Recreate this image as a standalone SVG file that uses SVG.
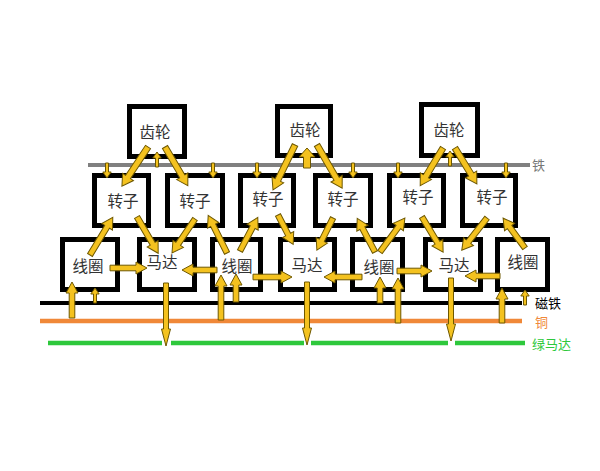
<svg xmlns="http://www.w3.org/2000/svg" width="600" height="471" viewBox="0 0 600 471">
<style>
.box{fill:#fff;stroke:#000;stroke-width:5}
.t{font-family:"Noto Sans CJK SC","Noto Sans",sans-serif;font-size:15.5px;fill:#333;text-anchor:middle}
.lbl{font-family:"Noto Sans CJK SC","Noto Sans",sans-serif;font-size:13px}
.a{fill:#F4C21F;stroke:#6e5800;stroke-width:1;stroke-linejoin:miter}
</style>
<defs>
<path id="sm" class="a" d="M0,-1.5 H9 V-4.2 L15,0 L9,4.2 V1.5 H0 Z"/>
<path id="dn" class="a" d="M0,-2.5 H46 V-4.5 L63,0 L46,4.5 V2.5 H0 Z"/>
</defs>
<rect width="600" height="471" fill="#fff"/>

<g id="lines">
<line x1="88" y1="165" x2="530" y2="165" stroke="#808080" stroke-width="4"/>
<line x1="40" y1="303" x2="522" y2="303" stroke="#000" stroke-width="4"/>
<line x1="40" y1="321" x2="522" y2="321" stroke="#F08838" stroke-width="4.5"/>
<path d="M48,343 H162 M171,343 H304 M311,343 H448 M455,343 H525" stroke="#2EC83C" stroke-width="4.5" fill="none"/>
</g>

<g id="gear1"><rect class="box" x="129.5" y="106.5" width="55" height="50"/><text class="t" x="155" y="138">齿轮</text></g>
<g id="gear2"><rect class="box" x="277.5" y="106.5" width="53" height="49"/><text class="t" x="305" y="136">齿轮</text></g>
<g id="gear3"><rect class="box" x="421.5" y="104.5" width="56" height="51"/><text class="t" x="449" y="136">齿轮</text></g>

<g id="rotor1"><rect class="box" x="94.5" y="175.5" width="54" height="50"/><text class="t" x="123" y="207">转子</text></g>
<g id="rotor2"><rect class="box" x="167.5" y="175.5" width="55" height="50"/><text class="t" x="195" y="207">转子</text></g>
<g id="rotor3"><rect class="box" x="240.5" y="175.5" width="53" height="50"/><text class="t" x="268" y="205">转子</text></g>
<g id="rotor4"><rect class="box" x="315.5" y="175.5" width="55" height="50"/><text class="t" x="343" y="205">转子</text></g>
<g id="rotor5"><rect class="box" x="389.5" y="175.5" width="54" height="50"/><text class="t" x="418" y="203">转子</text></g>
<g id="rotor6"><rect class="box" x="462.5" y="175.5" width="53" height="50"/><text class="t" x="492" y="203">转子</text></g>

<g id="coil1"><rect class="box" x="62.5" y="239.5" width="55" height="50"/><text class="t" x="88" y="272">线圈</text></g>
<g id="motor1"><rect class="box" x="139.5" y="239.5" width="55" height="50"/><text class="t" x="162" y="268">马达</text></g>
<g id="coil2"><rect class="box" x="212.5" y="239.5" width="48" height="50"/><text class="t" x="237" y="272">线圈</text></g>
<g id="motor2"><rect class="box" x="280.5" y="239.5" width="54" height="50"/><text class="t" x="307" y="271">马达</text></g>
<g id="coil3"><rect class="box" x="352.5" y="239.5" width="50" height="50"/><text class="t" x="379" y="273">线圈</text></g>
<g id="motor3"><rect class="box" x="425.5" y="239.5" width="55" height="50"/><text class="t" x="454" y="271">马达</text></g>
<g id="coil4"><rect class="box" x="497.5" y="239.5" width="50" height="50"/><text class="t" x="523" y="268">线圈</text></g>

<g id="labels">
<text class="lbl" x="532" y="170" fill="#777">铁</text>
<text class="lbl" x="535" y="308" fill="#000">磁铁</text>
<text class="lbl" x="535" y="327" fill="#F08838">铜</text>
<text class="lbl" x="532" y="349" fill="#2EC83C">绿马达</text>
</g>

<g id="connectors">
<path class="a" transform="translate(148,147) rotate(123.7)" d="M0,-3 H36 V-6.5 L47,0 L36,6.5 V3 H0 Z"/>
<path class="a" transform="translate(165,147) rotate(59.5)" d="M0,-3 H34 V-6.5 L45,0 L34,6.5 V3 H0 Z"/>
<use href="#sm" transform="translate(157,167) rotate(-90)"/>
<path class="a" transform="translate(295,145) rotate(116.1)" d="M0,-3 H39 V-6.5 L50,0 L39,6.5 V3 H0 Z"/>
<path class="a" transform="translate(317,145) rotate(59.8)" d="M0,-3 H39 V-6.5 L50,0 L39,6.5 V3 H0 Z"/>
<path class="a" transform="translate(307,168) rotate(-90)" d="M0,-3.5 H11 V-8 L20,0 L11,8 V3.5 H0 Z"/>
<path class="a" transform="translate(443,148) rotate(121.2)" d="M0,-3 H33 V-6.5 L44,0 L33,6.5 V3 H0 Z"/>
<path class="a" transform="translate(455,148) rotate(58.6)" d="M0,-3 H31 V-6.5 L42,0 L31,6.5 V3 H0 Z"/>
<use href="#sm" transform="translate(450,166) rotate(-90)"/>
<use href="#sm" transform="translate(107,163) rotate(90)"/>
<use href="#sm" transform="translate(213,163) rotate(90)"/>
<use href="#sm" transform="translate(257,163) rotate(90)"/>
<use href="#sm" transform="translate(353,163) rotate(90)"/>
<use href="#sm" transform="translate(398,163) rotate(90)"/>
<use href="#sm" transform="translate(506,163) rotate(90)"/>
<path class="a" transform="translate(90,255) rotate(-58.8)" d="M0,-2.8 H33 V-6.3 L44,0 L33,6.3 V2.8 H0 Z"/>
<path class="a" transform="translate(137,217) rotate(59.7)" d="M0,-2.8 H31 V-6.3 L42,0 L31,6.3 V2.8 H0 Z"/>
<path class="a" transform="translate(195,219) rotate(124.1)" d="M0,-2.8 H30 V-6.3 L41,0 L30,6.3 V2.8 H0 Z"/>
<path class="a" transform="translate(227,253) rotate(-116.6)" d="M0,-2.8 H31 V-6.3 L42,0 L31,6.3 V2.8 H0 Z"/>
<path class="a" transform="translate(240,251) rotate(-62.1)" d="M0,-2.8 H27 V-6.3 L38,0 L27,6.3 V2.8 H0 Z"/>
<path class="a" transform="translate(278,215) rotate(62.6)" d="M0,-2.8 H22 V-6.3 L33,0 L22,6.3 V2.8 H0 Z"/>
<path class="a" transform="translate(333,218) rotate(116.6)" d="M0,-2.8 H25 V-6.3 L36,0 L25,6.3 V2.8 H0 Z"/>
<path class="a" transform="translate(375,252) rotate(-117.9)" d="M0,-2.8 H27 V-6.3 L38,0 L27,6.3 V2.8 H0 Z"/>
<path class="a" transform="translate(380,252) rotate(-53.7)" d="M0,-2.8 H31 V-6.3 L42,0 L31,6.3 V2.8 H0 Z"/>
<path class="a" transform="translate(422,217) rotate(59)" d="M0,-2.8 H30 V-6.3 L41,0 L30,6.3 V2.8 H0 Z"/>
<path class="a" transform="translate(487,218) rotate(128)" d="M0,-2.8 H30 V-6.3 L41,0 L30,6.3 V2.8 H0 Z"/>
<path class="a" transform="translate(525,248) rotate(-126.3)" d="M0,-2.8 H26 V-6.3 L37,0 L26,6.3 V2.8 H0 Z"/>
<path class="a" transform="translate(110,268)" d="M0,-2.8 H26 V-6 L37,0 L26,6 V2.8 H0 Z"/>
<path class="a" transform="translate(217,270) rotate(180)" d="M0,-2.8 H24 V-6 L35,0 L24,6 V2.8 H0 Z"/>
<path class="a" transform="translate(253,277)" d="M0,-2.8 H28 V-6 L39,0 L28,6 V2.8 H0 Z"/>
<path class="a" transform="translate(362,277) rotate(180)" d="M0,-2.8 H27 V-6 L38,0 L27,6 V2.8 H0 Z"/>
<path class="a" transform="translate(397,271)" d="M0,-2.8 H24 V-6 L35,0 L24,6 V2.8 H0 Z"/>
<path class="a" transform="translate(500,276) rotate(180)" d="M0,-2.8 H24 V-6 L35,0 L24,6 V2.8 H0 Z"/>
<path class="a" transform="translate(72,318) rotate(-90)" d="M0,-2.8 H25 V-6 L36,0 L25,6 V2.8 H0 Z"/>
<use href="#sm" transform="translate(95,303) rotate(-90)"/>
<use href="#dn" transform="translate(166,283) rotate(90)"/>
<path class="a" transform="translate(221,320) rotate(-90)" d="M0,-2.8 H34 V-6 L45,0 L34,6 V2.8 H0 Z"/>
<path class="a" transform="translate(236,302) rotate(-90)" d="M0,-2.8 H17 V-6 L28,0 L17,6 V2.8 H0 Z"/>
<use href="#dn" transform="translate(307,282) rotate(90)"/>
<path class="a" transform="translate(380,303) rotate(-90)" d="M0,-2.8 H15 V-6 L26,0 L15,6 V2.8 H0 Z"/>
<path class="a" transform="translate(398,323) rotate(-90)" d="M0,-2.8 H34 V-6 L45,0 L34,6 V2.8 H0 Z"/>
<use href="#dn" transform="translate(451,278) rotate(90)"/>
<path class="a" transform="translate(502,323) rotate(-90)" d="M0,-2.8 H24 V-6 L35,0 L24,6 V2.8 H0 Z"/>
<use href="#sm" transform="translate(525,305) rotate(-90)"/>
</g>
</svg>
